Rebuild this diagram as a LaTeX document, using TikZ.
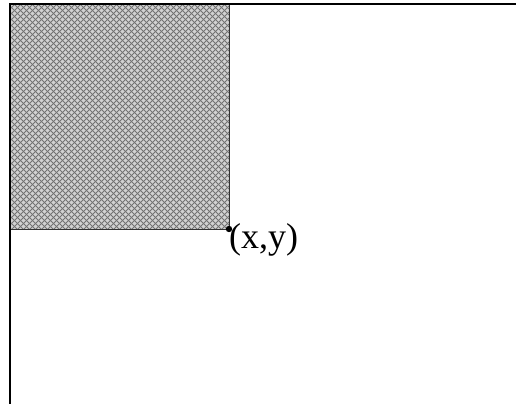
\documentclass[tikz,border=0pt]{standalone}
\usepackage{fontspec}
\setmainfont{Liberation Serif}
\begin{document}
\begin{tikzpicture}[x=1pt,y=-1pt,
  axis/.style={line width=1.3pt,black},
  region/.style={fill=gray!35},
  hatchline/.style={line width=0.8pt,black!55},
  edge/.style={line width=0.9pt,black!80}]
\useasboundingbox (0,0) rectangle (516,404);
\fill[white] (0,0) rectangle (516,404);
\coordinate (O) at (10,4);
\coordinate (R) at (516,4);
\coordinate (B) at (10,404);
\coordinate (P) at (229,229);
\path[region] (O) rectangle (P);
\begin{scope}
\clip (O) rectangle (P);
\foreach \k in {-230,-224,...,230} {
  \draw[hatchline] (10+\k,4) -- (239+\k,233);
  \draw[hatchline] (10+\k,233) -- (239+\k,4);
}
\end{scope}
\draw[edge] (O) rectangle (P);
\draw[axis] (R) -- (O) -- (B);
\fill[black] (P) circle (3.2pt);
\node[anchor=base west,inner sep=0pt,font=\fontsize{36}{40}\selectfont] (L) at (229,248) {(x,y)};
\end{tikzpicture}
\end{document}
